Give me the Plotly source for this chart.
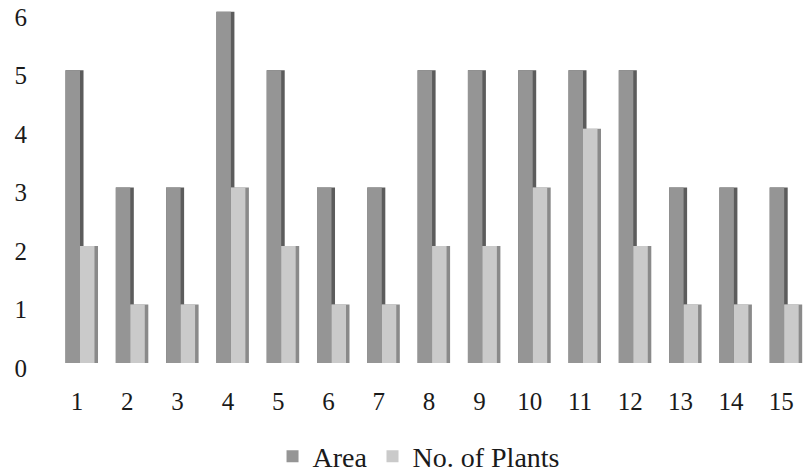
import plotly.graph_objects as go

# Data
categories = list(range(1, 16))
area = [5, 3, 3, 6, 5, 3, 3, 5, 5, 5, 5, 5, 3, 3, 3]
plants = [2, 1, 1, 3, 2, 1, 1, 2, 2, 3, 4, 2, 1, 1, 1]
y_ticks = [0, 1, 2, 3, 4, 5, 6]

# Bar geometry in category units (front face + shaded right side)
front_w = 0.288
side_w = 0.07

serif = "Liberation Serif, Times New Roman, serif"
tick_font = dict(family=serif, size=25, color="#1a1a1a")
legend_font = dict(family=serif, size=28, color="#1a1a1a")

fig = go.Figure()

# Area: dark side strip, then front face
fig.add_trace(go.Bar(x=categories, y=area, offset=-front_w, width=front_w + side_w,
                     marker=dict(color="#5c5c5c", line=dict(width=0)),
                     showlegend=False, hoverinfo="skip"))
fig.add_trace(go.Bar(x=categories, y=area, offset=-front_w, width=front_w,
                     name="Area", marker=dict(color="#959595", line=dict(width=0))))

# No. of Plants: side strip, then front face
fig.add_trace(go.Bar(x=categories, y=plants, offset=0, width=front_w + side_w,
                     marker=dict(color="#8a8a8a", line=dict(width=0)),
                     showlegend=False, hoverinfo="skip"))
fig.add_trace(go.Bar(x=categories, y=plants, offset=0, width=front_w,
                     name="No. of Plants", marker=dict(color="#cacaca", line=dict(width=0))))

fig.update_layout(
    width=803, height=476,
    margin=dict(l=55, r=0, t=3, b=113, autoexpand=False),
    barmode="overlay",
    plot_bgcolor="white", paper_bgcolor="white",
    font=tick_font,
    xaxis=dict(
        range=[0.503, 15.374],
        tickmode="array", tickvals=categories, ticktext=[str(c) for c in categories],
        showgrid=False, zeroline=False, showline=False,
        ticks="outside", ticklen=0, ticklabelstandoff=16, ticklabelshift=-3,
        tickfont=tick_font, automargin=False,
    ),
    yaxis=dict(
        range=[0, 6.15],
        tickmode="array", tickvals=y_ticks, ticktext=[str(v) for v in y_ticks],
        showgrid=False, zeroline=False, showline=False,
        ticks="outside", ticklen=0, ticklabelstandoff=22, ticklabelshift=5,
        ticklabeloverflow="allow", tickfont=tick_font, automargin=False,
    ),
    legend=dict(
        orientation="h", x=0.486, xanchor="center", y=-0.26, yanchor="middle",
        font=legend_font, itemwidth=30, traceorder="normal",
    ),
    showlegend=True,
)

fig.write_html("out.html")
